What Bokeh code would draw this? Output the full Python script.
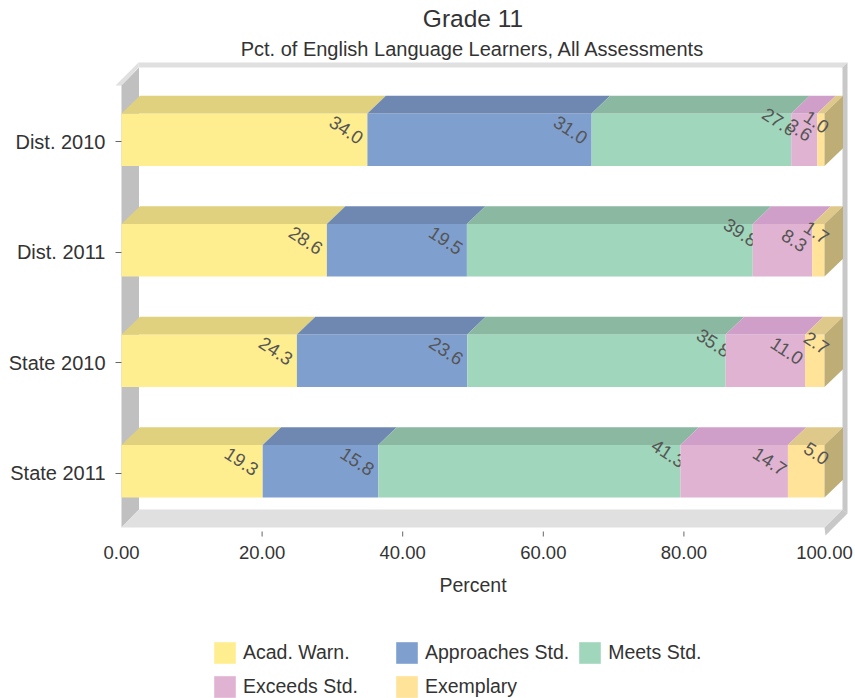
from bokeh.plotting import figure
from bokeh.models import Range1d, FixedTicker, Legend, LegendItem, PrintfTickFormatter, LinearAxis
from bokeh.core.properties import value
from bokeh.embed import file_html
from bokeh.resources import INLINE
import numpy as np

title_text = "Grade 11"
subtitle_text = "Pct. of English Language Learners, All Assessments"
x_label = "Percent"
categories = ["Dist. 2010", "Dist. 2011", "State 2010", "State 2011"]
x_ticks = [0, 20, 40, 60, 80, 100]
series_names = ["Acad. Warn.", "Approaches Std.", "Meets Std.", "Exceeds Std.", "Exemplary"]
acad_warn = [34.0, 28.6, 24.3, 19.3]
approaches = [31.0, 19.5, 23.6, 15.8]
meets = [27.6, 39.8, 35.8, 41.3]
exceeds = [3.6, 8.3, 11.0, 14.7]
exemplary = [1.0, 1.7, 2.7, 5.0]

front_colors = ["#FFEE8F", "#7F9FCF", "#A0D6BB", "#E0B3D3", "#FFE399"]
top_colors = ["#DFD17D", "#6E88B2", "#8AB8A1", "#D09FC9", "#DFC98A"]
side_color = "#BFAD76"
label_dx = [-21, -21, -12, -18, -8]
label_dy = [10, 10, 18, 10, 18]
FONT = "Liberation Sans"
TXT = "#333333"

PX_X, X0 = 7.03, 121
PX_Y, Y0 = 110.5, 141
W, H = 855, 698
def X(px): return (px - X0) / PX_X
def Y(px): return (px - Y0) / PX_Y

p = figure(width=W, height=H, output_backend="svg", toolbar_location=None,
           x_range=Range1d(X(0), X(W)), y_range=Range1d(Y(H), Y(0)),
           frame_width=W, frame_height=H, min_border=0,
           x_axis_location=None, y_axis_location=None,
           outline_line_color=None, background_fill_color="white")
p.grid.visible = False

# chart box ("3D" walls), given as offsets in reference pixels
walls = [
    ([139, 848, 843, 139], [63, 63, 68, 68], "#E0E0E0"),
    ([116, 139, 139, 122], [86, 63, 68, 86], "#E0E0E0"),
    ([122, 139.5, 139.5, 122], [86, 68, 510, 528], "#C0C0C0"),
    ([843, 848, 848, 843], [68, 63, 514, 510], "#C8C8C8"),
    ([843, 848, 826, 825], [510, 514, 536, 528], "#C8C8C8"),
    ([122, 139.5, 843, 825], [528, 510, 510, 528], "#E0E0E0"),
]
for xs, ys, c in walls:
    p.patch([X(v - 1) for v in xs], [Y(v - 1) for v in ys], fill_color=c, line_color=None)

rows = np.arange(len(categories), dtype=float)
data = np.array([acad_warn, approaches, meets, exceeds, exemplary])
share = data / data.sum(axis=0) * 100
ends = share.cumsum(axis=0)
starts = ends - share
bar_c = rows - 1.7 / PX_Y
bar_h = 52.5 / PX_Y
dx = 18.5 / PX_X
dy = 17.7 / PX_Y

items = []
for i, name in enumerate(series_names):
    l, r = starts[i], ends[i]
    front = p.hbar(y=bar_c, left=l, right=r, height=bar_h, fill_color=front_colors[i], line_color=None)
    t = bar_c - bar_h / 2
    p.patches([[a, b, b + dx, a + dx] for a, b in zip(l, r)],
              [[y, y, y - dy, y - dy] for y in t],
              fill_color=top_colors[i], line_color=None)
    if i == len(series_names) - 1:
        p.patches([[b, b + dx, b + dx, b] for b in r],
                  [[y, y - dy, y - dy + bar_h, y + bar_h] for y in t],
                  fill_color=side_color, line_color=None)
    p.text(x=r, y=bar_c, text=[f"{v:.1f}" for v in data[i]], angle=-33, angle_units="deg",
           text_align="center", text_baseline="middle", text_font=value(FONT), text_font_size="18.5px",
           text_color="#555555", x_offset=label_dx[i], y_offset=-label_dy[i])
    items.append(LegendItem(label=name, renderers=[front]))

# x tick marks (none at the box corners)
inner = x_ticks[1:-1]
p.segment(x0=inner, x1=inner, y0=[Y(531)] * len(inner), y1=[Y(536)] * len(inner), line_color="#666666", line_width=1)

xa = LinearAxis(fixed_location=Y(536), ticker=FixedTicker(ticks=x_ticks),
                formatter=PrintfTickFormatter(format="%.2f"))
xa.axis_line_color = None
xa.major_tick_line_color = None
xa.minor_tick_line_color = None
xa.major_label_text_font = FONT
xa.major_label_text_font_size = "18.5px"
xa.major_label_text_color = TXT
xa.major_label_standoff = 3
p.add_layout(xa, "below")

ya = LinearAxis(fixed_location=0, ticker=FixedTicker(ticks=list(rows)))
ya.major_label_overrides = {float(r): c for r, c in zip(rows, categories)}
ya.axis_line_color = None
ya.major_tick_in, ya.major_tick_out = 0, 6
ya.minor_tick_line_color = None
ya.major_tick_line_color = "#666666"
ya.major_label_text_font = FONT
ya.major_label_text_font_size = "20px"
ya.major_label_text_color = TXT
ya.major_label_standoff = 10
p.add_layout(ya, "left")

# titles and axis title, centred on the axis (x = 50)
for txt, py, size in [(title_text, 18, "24.5px"), (subtitle_text, 48, "20px"), (x_label, 584, "19.5px")]:
    p.text(x=[50], y=[Y(py)], text=[txt], text_align="center", text_baseline="middle",
           text_font=value(FONT), text_font_size=size, text_color=TXT)

legend = Legend(items=items, ncols=3, orientation="horizontal", location=(211, -2), glyph_width=27, glyph_height=27,
                label_standoff=5, spacing=7, margin=0, padding=0, label_width=143, label_height=27,
                border_line_color=None, background_fill_alpha=0,
                label_text_font=FONT, label_text_font_size="19.5px", label_text_color=TXT)
p.add_layout(legend, "center")

open("out.html", "w").write(file_html(p, INLINE))
